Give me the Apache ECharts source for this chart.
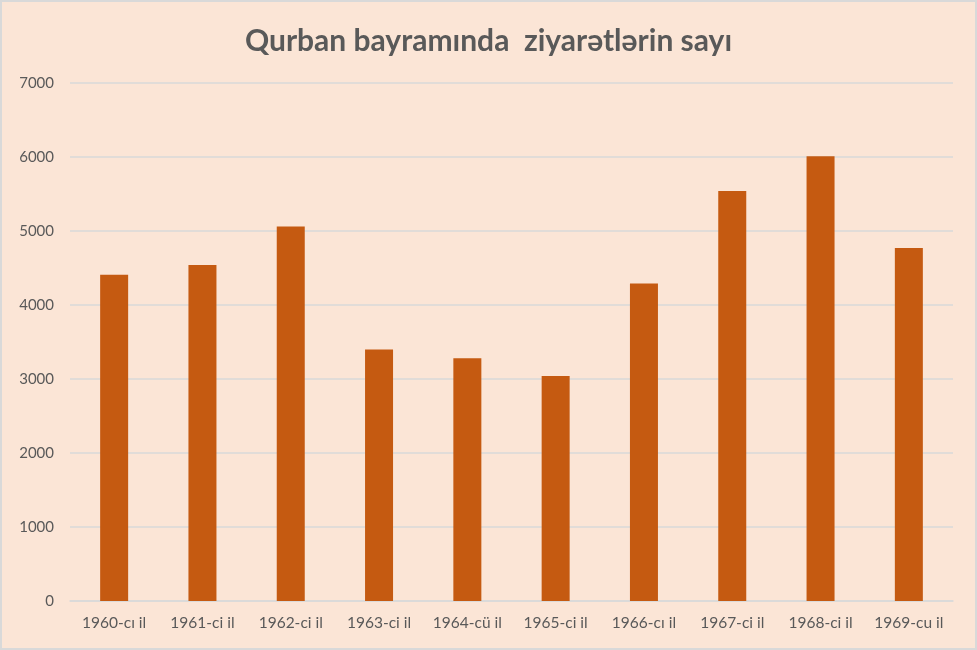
<!DOCTYPE html>
<html>
<head>
<meta charset="utf-8">
<script src="https://cdn.jsdelivr.net/npm/echarts@6/dist/echarts.min.js"></script>
<style>
html,body{margin:0;padding:0;background:#fff;}
#wrap{width:977px;height:650px;box-sizing:border-box;border:2px solid #D9D9D9;background:#FBE5D6;}
#chart{width:973px;height:646px;}
</style>
</head>
<body>
<div id="wrap"><div id="chart"></div></div>
<script>
const titleText = "Qurban bayramında  ziyarətlərin sayı";
const categories = ["1960-cı il","1961-ci il","1962-ci il","1963-ci il","1964-cü il","1965-ci il","1966-cı il","1967-ci il","1968-ci il","1969-cu il"];
const visitors = [4410, 4540, 5060, 3400, 3280, 3040, 4290, 5540, 6010, 4770];
const yMin = 0, yMax = 7000, yStep = 1000;

const chart = echarts.init(document.getElementById('chart'));
chart.setOption({
  animation: false,
  backgroundColor: 'transparent',
  title: {
    text: titleText,
    left: 'center',
    top: 19,
    textStyle: { fontFamily: 'Lato', fontSize: 30, fontWeight: 'bold', color: '#595959' }
  },
  grid: { left: 68, right: 22, top: 81, bottom: 47 },
  xAxis: {
    type: 'category',
    data: categories,
    axisLine: { lineStyle: { color: '#D9D9D9', width: 1.5 } },
    axisTick: { show: false },
    axisLabel: { color: '#595959', fontFamily: 'Lato', fontSize: 15.5, margin: 14, interval: 0, hideOverlap: false }
  },
  yAxis: {
    type: 'value',
    min: yMin, max: yMax, interval: yStep,
    axisLine: { show: false },
    axisTick: { show: false },
    splitLine: { lineStyle: { color: '#D9D9D9', width: 1.5 } },
    axisLabel: { color: '#595959', fontFamily: 'Lato', fontSize: 15, margin: 16, formatter: function (v) { return String(v); } }
  },
  series: [{
    type: 'bar',
    data: visitors,
    barWidth: 28,
    itemStyle: { color: '#C55A11' }
  }]
});
</script>
</body>
</html>
